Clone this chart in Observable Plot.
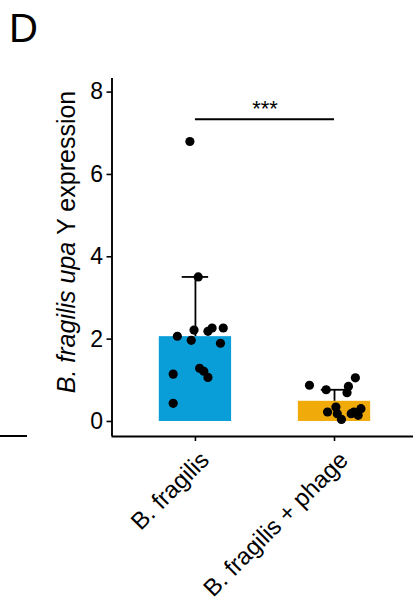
<!DOCTYPE html>
<html>
<head>
<meta charset="utf-8">
<script src="https://cdn.jsdelivr.net/npm/d3@7"></script>
<script src="https://cdn.jsdelivr.net/npm/@observablehq/plot@0.6"></script>
<style>
  html, body { margin: 0; padding: 0; background: #fff; }
  #wrap { position: relative; width: 413px; height: 601px; overflow: hidden; }
  #panel { position: absolute; left: 9px; top: 8px; font-family: "Liberation Sans", Arial, sans-serif; font-size: 40px; line-height: 1; color: #000; }
  #neighbor { position: absolute; left: 0; top: 435px; width: 27px; height: 2px; background: #000; }
</style>
</head>
<body>
<div id="wrap">
  <div id="chart"></div>
  <div id="panel">D</div>
  <div id="neighbor"></div>
</div>
<script>
// ---- data ----
const groups = ["B. fragilis", "B. fragilis + phage"];
const groupPos = [1, 2];
const barMeans = [2.06, 0.49];
const errUpper = [3.51, 0.77];
const barColors = ["#0a9ed8", "#f0ab0b"];

const bfValues = [6.80, 3.51, 2.07, 2.22, 1.97, 2.19, 2.27, 2.27, 1.90, 1.15, 1.29, 1.22, 1.07, 0.44];
const bfJitter = [-0.04, 0.02, -0.13, -0.01, -0.03, 0.09, 0.12, 0.20, 0.18, -0.16, 0.03, 0.06, 0.09, -0.16];

const phValues = [0.88, 0.77, 0.85, 1.06, 0.70, 0.35, 0.23, 0.19, 0.05, 0.19, 0.31, 0.15, 0.23];
const phJitter = [-0.18, -0.06, 0.10, 0.15, 0.09, 0.01, -0.05, 0.02, 0.05, 0.12, 0.19, 0.17, 0.14];

const yTicks = [0, 2, 4, 6, 8];
const sigText = "***";
const sigY = 7.34;
const yLabelParts = [
  {t: "B. fragilis ", italic: true},
  {t: "upa ", italic: true},
  {t: "Y", italic: false},
  {t: " expression", italic: false}
];

// ---- tables built from the arrays ----
const bars = groups.map((g, i) => ({group: g, pos: groupPos[i], mean: barMeans[i], upper: errUpper[i]}));
const points = [
  ...bfValues.map((v, i) => ({group: groups[0], pos: groupPos[0] + bfJitter[i], value: v})),
  ...phValues.map((v, i) => ({group: groups[1], pos: groupPos[1] + phJitter[i], value: v}))
];

const X0 = 0.4, X1 = 2.568, Y0 = -0.365, Y1 = 8.33;
const barHalf = 0.26, capHalf = 0.095;

const chart = Plot.plot({
  width: 413,
  height: 601,
  marginLeft: 111.5,
  marginRight: 0,
  marginTop: 78,
  marginBottom: 165,
  style: {fontFamily: "'Liberation Sans', Arial, sans-serif", fontSize: "23px", color: "#000", background: "transparent", overflow: "visible"},
  x: {domain: [X0, X1], ticks: groupPos, tickSize: 5, tickFormat: () => "", label: null},
  y: {domain: [Y0, Y1], ticks: yTicks, tickSize: 5, tickPadding: 4, tickFormat: d3.format("d"), label: null},
  color: {domain: groups, range: barColors},
  marks: [
    Plot.rectY(bars, {x1: d => d.pos - barHalf, x2: d => d.pos + barHalf, y1: 0, y2: "mean", fill: "group"}),
    Plot.ruleX(bars, {x: "pos", y1: "mean", y2: "upper", stroke: "#000", strokeWidth: 1.8}),
    Plot.ruleY(bars, {x1: d => d.pos - capHalf, x2: d => d.pos + capHalf, y: "upper", stroke: "#000", strokeWidth: 1.8}),
    Plot.dot(points, {x: "pos", y: "value", r: 4.6, fill: "#000", stroke: "none"}),
    Plot.ruleX([X0], {y1: Y0, y2: Y1, stroke: "#000", strokeWidth: 1.9}),
    Plot.ruleY([Y0], {x1: X0, x2: X1, stroke: "#000", strokeWidth: 1.9}),
    Plot.ruleY([sigY], {x1: groupPos[0], x2: groupPos[1], stroke: "#000", strokeWidth: 1.8}),
    Plot.text([sigText], {x: (groupPos[0] + groupPos[1]) / 2, y: sigY, text: d => d, dy: -3, lineAnchor: "bottom", fontSize: 22}),
    Plot.text(bars, {x: "pos", y: Y0, text: "group", rotate: -45, textAnchor: "end", lineAnchor: "top", dx: 3, dy: 13, fontSize: 24})
  ]
});
document.getElementById("chart").appendChild(chart);

const svg = d3.select(chart);
svg.selectAll("[aria-label='y-axis tick'] path, [aria-label='x-axis tick'] path").attr("stroke-width", 1.6);

// y-axis title with mixed italics
const lab = svg.append("text")
  .attr("transform", "translate(75,242) rotate(-90)")
  .attr("text-anchor", "middle")
  .style("font-size", "25px")
  .attr("fill", "#000");
yLabelParts.forEach(p => lab.append("tspan").text(p.t).style("font-style", p.italic ? "italic" : "normal"));
</script>
</body>
</html>
